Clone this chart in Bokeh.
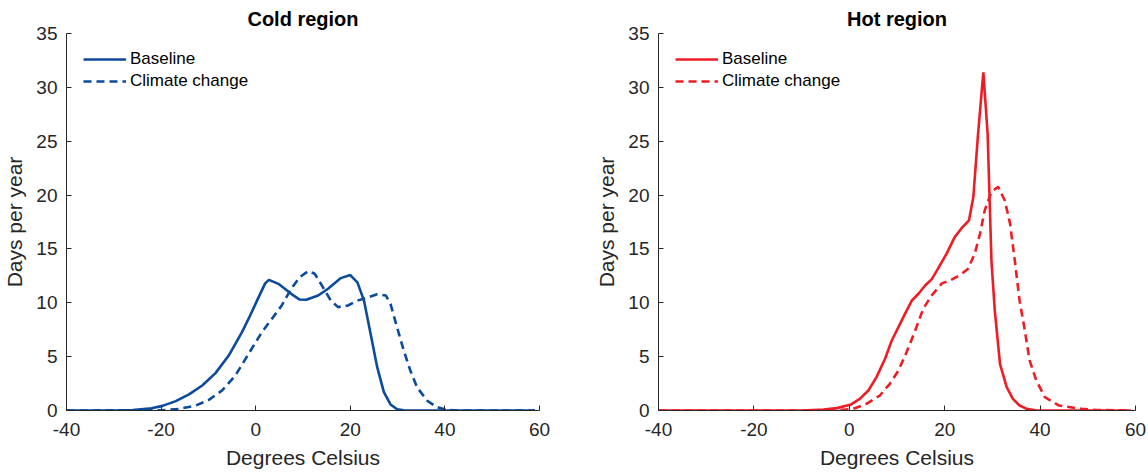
from bokeh.plotting import figure
from bokeh.layouts import row
from bokeh.models import Legend, LegendItem, FixedTicker, Range1d
from bokeh.embed import file_html
from bokeh.resources import INLINE

# ---------------- data ----------------
cold_base_x = [-40, -30, -26, -22, -19.7, -16.9, -14.1, -11.3, -8.5, -5.7, -2.9, -1.2, 0.6, 2.0, 2.8,
               4.8, 7.5, 9.3, 10.7, 13.2, 15.3, 18.0, 20.0, 21.5, 22.9, 24.3, 25.7, 27.1, 28.5, 29.9,
               31.3, 35, 59]
cold_base_y = [0, 0.0, 0.05, 0.2, 0.43, 0.87, 1.49, 2.32, 3.47, 5.1, 7.27, 8.8, 10.5, 11.8, 12.13,
               11.76, 10.83, 10.3, 10.28, 10.68, 11.3, 12.29, 12.57, 11.9, 10.2, 7.1, 4.0, 1.7, 0.56, 0.12,
               0.02, 0, 0]

cold_cc_x = [-40, -20, -16.2, -12.7, -9.9, -7.1, -4.3, -1.5, 1.3, 3.4, 5.5, 7.5, 9.3, 11.1, 12.5,
             14.2, 15.9, 17.4, 19.5, 21.5, 23.7, 25.7, 27.5, 28.5, 29.9, 31.3, 32.7, 34.1, 36.2, 38.3,
             40.4, 42.5, 59]
cold_cc_y = [0, 0.02, 0.15, 0.46, 0.99, 1.86, 3.25, 5.26, 7.27, 8.5, 9.75, 11.3, 12.38, 12.94, 12.69,
             11.45, 10.2, 9.6, 9.75, 10.2, 10.5, 10.8, 10.68, 9.9, 7.7, 5.57, 3.7, 2.17, 0.93, 0.31,
             0.06, 0.0, 0]

hot_base_x = [-40, -10, -5.4, -2.6, 0.2, 2.2, 4.0, 5.7, 7.5, 8.9, 10.3, 11.7, 13.1, 14.5, 15.9, 17.3,
              18.6, 20.4, 22.1, 23.5, 25.1, 26.0, 27.0, 28.1, 29.0, 29.8, 30.5, 31.6, 33.0, 34.3, 35.7,
              37.2, 39.2, 59]
hot_base_y = [0, 0, 0.09, 0.22, 0.53, 1.08, 1.86, 3.1, 4.8, 6.5, 7.74, 9.0, 10.2, 10.84, 11.6, 12.2,
              13.17, 14.56, 16.1, 16.9, 17.66, 19.8, 25.7, 31.4, 25.7, 13.9, 9.3, 4.3, 2.17, 1.08, 0.46,
              0.15, 0, 0]

hot_cc_x = [-40, -3, 0.8, 3.6, 6.4, 8.5, 10.3, 12.0, 13.8, 15.5, 17.3, 19.4, 21.1, 23.2, 24.9, 26.3,
            27.4, 28.4, 29.8, 31.2, 32.6, 33.7, 34.7, 35.7, 36.8, 37.8, 39.2, 41.0, 44.0, 48.7, 51.8, 59]
hot_cc_y = [0, 0, 0.15, 0.62, 1.39, 2.48, 3.7, 5.4, 7.4, 9.45, 10.7, 11.8, 12.08, 12.55, 13.17, 14.56,
            16.4, 18.6, 20.3, 20.76, 19.5, 17.35, 13.9, 10.2, 7.43, 4.65, 2.79, 1.24, 0.46, 0.15, 0.05, 0]

x_ticks = [-40, -20, 0, 20, 40, 60]
x_tick_labels = ["-40", "-20", "0", "20", "40", "60"]
y_ticks = [0, 5, 10, 15, 20, 25, 30, 35]
titles = ["Cold region", "Hot region"]
series_names = ["Baseline", "Climate change"]

BLUE = "#0C4A9C"
RED = "#EE1C24"
AXC = "#262626"
FONT = "Liberation Sans"


def make_panel(title, bx, by, cx, cy, color, width, border_left, border_right):
    p = figure(width=width, height=472, output_backend="svg", toolbar_location=None,
               x_range=Range1d(-40, 60), y_range=Range1d(0, 35),
               min_border_left=border_left, min_border_right=border_right,
               min_border_top=33, min_border_bottom=62)
    p.title.text = title
    p.title.text_font = FONT
    p.title.text_font_size = "20px"
    p.title.text_font_style = "bold"
    p.title.text_color = "#000000"
    p.title.align = "center"
    p.title.standoff = 7
    p.title.offset = 0
    p.outline_line_color = None
    p.grid.visible = False
    p.background_fill_color = "white"
    p.border_fill_color = "white"

    for ax in (p.xaxis[0], p.yaxis[0]):
        ax.axis_line_color = AXC
        ax.axis_line_width = 1
        ax.major_tick_line_color = AXC
        ax.major_tick_in = 5
        ax.major_tick_out = 0
        ax.minor_tick_line_color = None
        ax.major_label_text_font = FONT
        ax.major_label_text_font_size = "19px"
        ax.major_label_text_color = AXC
        ax.axis_label_text_font = FONT
        ax.axis_label_text_font_size = "21px"
        ax.axis_label_text_font_style = "normal"
        ax.axis_label_text_color = AXC
    p.xaxis[0].ticker = FixedTicker(ticks=x_ticks)
    p.xaxis[0].major_label_overrides = {t: s for t, s in zip(x_ticks, x_tick_labels)}
    p.yaxis[0].ticker = FixedTicker(ticks=y_ticks)
    p.xaxis[0].axis_label = "Degrees Celsius"
    p.yaxis[0].axis_label = "Days per year"
    p.xaxis[0].major_label_standoff = 12
    p.xaxis[0].axis_label_standoff = 7
    p.yaxis[0].major_label_standoff = 9
    p.yaxis[0].axis_label_standoff = 7

    r1 = p.line(bx, by, line_color=color, line_width=2.6)
    r2 = p.line(cx, cy, line_color=color, line_width=2.6, line_dash="8 5")

    legend = Legend(items=[LegendItem(label=series_names[0], renderers=[r1]),
                           LegendItem(label=series_names[1], renderers=[r2])],
                    location=(17, 319), border_line_color=None, background_fill_alpha=0,
                    padding=0, margin=0, spacing=2, glyph_width=43, glyph_height=20,
                    label_height=20, label_standoff=4,
                    label_text_font=FONT, label_text_font_size="17px", label_text_color="#000000")
    p.add_layout(legend)
    return p


p1 = make_panel(titles[0], cold_base_x, cold_base_y, cold_cc_x, cold_cc_y, BLUE, 568, 63, 29)
p2 = make_panel(titles[1], hot_base_x, hot_base_y, hot_cc_x, hot_cc_y, RED, 580, 90, 13)

layout = row(p1, p2)
open("out.html", "w").write(file_html(layout, INLINE))
